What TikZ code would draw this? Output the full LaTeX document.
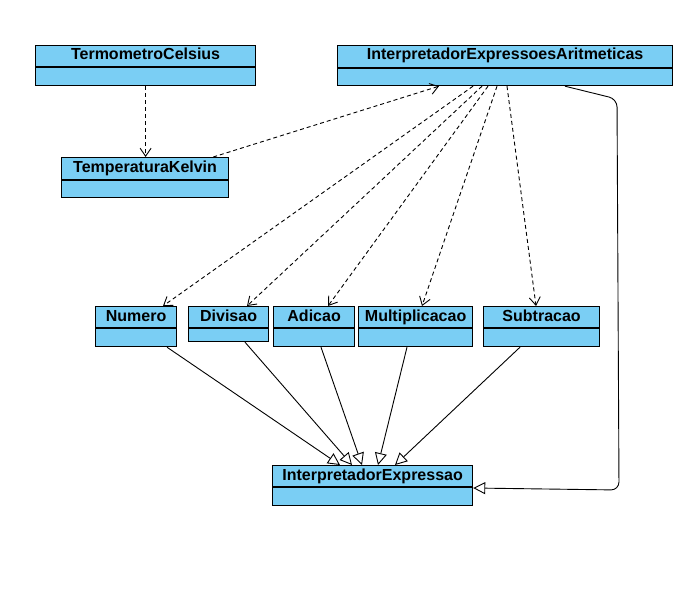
\documentclass[tikz,border=0pt]{standalone}
\usepackage{fontspec}
\setmainfont{Liberation Sans}
\usetikzlibrary{arrows.meta,calc}
\definecolor{clsfill}{RGB}{122,206,244}
\tikzset{
  cls/.style={draw=black, line width=1.2pt, fill=clsfill, anchor=north west, inner sep=0pt, minimum height=40pt},
  ctitle/.style={anchor=base, inner sep=0pt, font=\fontsize{16}{19}\selectfont\bfseries},
  dep/.style={draw=black, line width=0.9pt, dash pattern=on 4pt off 3pt, -{Straight Barb[length=8pt,width=11pt,line width=0.9pt]}},
  gen/.style={draw=black, line width=0.9pt, -{Triangle[open,length=12pt,width=12pt,line width=0.9pt,fill=white]}},
}
\begin{document}
\begin{tikzpicture}[x=1pt,y=-1pt]
\useasboundingbox (0,0) rectangle (700,588);
% classes
\node[cls, minimum width=220pt] (tc) at (35,45) {};
\node[cls, minimum width=335pt] (iea) at (337,45) {};
\node[cls, minimum width=167pt] (tk) at (61,157) {};
\node[cls, minimum width=81pt] (num) at (95,306) {};
\node[cls, minimum width=80pt, minimum height=35pt] (div) at (188,306) {};
\node[cls, minimum width=81pt] (add) at (273,306) {};
\node[cls, minimum width=114pt] (mul) at (358,306) {};
\node[cls, minimum width=116pt] (sub) at (483,306) {};
\node[cls, minimum width=200pt] (ie) at (272,465) {};
% dividers
\draw[line width=1.2pt] ($(tc.north west)+(0,22)$) -- ($(tc.north east)+(0,22)$);
\draw[line width=1.2pt] ($(iea.north west)+(0,23)$) -- ($(iea.north east)+(0,23)$);
\draw[line width=1.2pt] ($(tk.north west)+(0,23)$) -- ($(tk.north east)+(0,23)$);
\foreach \n in {num,div,add,mul,sub,ie}{
  \draw[line width=1.2pt] ($(\n.north west)+(0,22)$) -- ($(\n.north east)+(0,22)$);
}
% titles
\node[ctitle] (tct) at ($(tc.north)+(0,15)$) {TermometroCelsius};
\node[ctitle] (ieat) at ($(iea.north)+(0,15)$) {InterpretadorExpressoesAritmeticas};
\node[ctitle] (tkt) at ($(tk.north)+(0,15)$) {TemperaturaKelvin};
\node[ctitle] (numt) at ($(num.north)+(0,15)$) {Numero};
\node[ctitle] (divt) at ($(div.north)+(0,15)$) {Divisao};
\node[ctitle] (addt) at ($(add.north)+(0,15)$) {Adicao};
\node[ctitle] (mult) at ($(mul.north)+(0,15)$) {Multiplicacao};
\node[ctitle] (subt) at ($(sub.north)+(0,15)$) {Subtracao};
\node[ctitle] (iet) at ($(ie.north)+(0,15)$) {InterpretadorExpressao};
% dependencies
\draw[dep] (tc.south) -- (tc.south |- tk.north);
\draw[dep] ($(tk.north east)+(-16,0)$) -- ($(iea.south west)+(102,0)$);
\draw[dep] ($(iea.south west)+(136,0)$) -- ($(num.north west)+(68,0)$);
\draw[dep] ($(iea.south west)+(145,0)$) -- ($(div.north west)+(59,0)$);
\draw[dep] ($(iea.south west)+(151,0)$) -- ($(add.north west)+(55,0)$);
\draw[dep] ($(iea.south west)+(160,0)$) -- ($(mul.north west)+(64,0)$);
\draw[dep] ($(iea.south west)+(170,0)$) -- ($(sub.north west)+(53,0)$);
% generalizations
\draw[gen] ($(num.south west)+(72,0)$) -- ($(ie.north west)+(68,0)$);
\draw[gen] ($(div.south west)+(57,0)$) -- ($(ie.north west)+(80,0)$);
\draw[gen] ($(add.south west)+(48,0)$) -- ($(ie.north west)+(90,0)$);
\draw[gen] ($(mul.south west)+(49,0)$) -- ($(ie.north west)+(106,0)$);
\draw[gen] ($(sub.south west)+(37,0)$) -- ($(ie.north west)+(123,0)$);
\coordinate (c1) at (617,99);
\coordinate (c2) at (619,490);
\draw[gen, rounded corners=8pt] ($(iea.south west)+(228,0)$) -- (c1) -- (c2) -- ($(ie.north east)+(0,23)$);
\end{tikzpicture}
\end{document}
